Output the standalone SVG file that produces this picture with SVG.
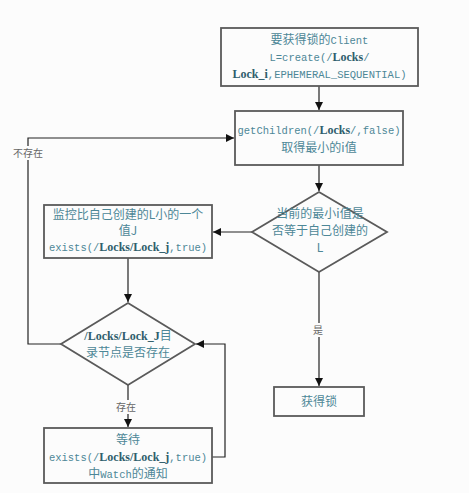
<svg xmlns="http://www.w3.org/2000/svg" width="469" height="493" viewBox="0 0 469 493">
<defs>
<marker id="ah" viewBox="0 0 10 10" refX="10" refY="5" markerWidth="8" markerHeight="8" markerUnits="userSpaceOnUse" orient="auto">
<path d="M0,0 L10,5 L0,10 z" fill="#111"/>
</marker>
<style>
.node{fill:#fcfcfc;stroke:#5a5a5a;stroke-width:1.8}
.t{font-family:"Liberation Mono","Noto Sans CJK SC",monospace;font-size:10.5px;fill:#4d8797;text-anchor:middle}
.c{font-family:"Noto Sans CJK SC","Liberation Sans",sans-serif;font-size:12px;fill:#4d8797;text-anchor:middle}
.b{font-family:"Liberation Serif",serif;font-weight:bold;font-size:12px;fill:#2f5e6c}
.e{fill:none;stroke:#222;stroke-width:1.2}
.lbl{font-family:"Noto Sans CJK SC","Liberation Sans",sans-serif;font-size:10px;fill:#666;text-anchor:middle}
.lb{fill:#fcfcfc}
</style>
</defs>
<rect width="469" height="493" fill="#fcfcfc"/>
<g id="connectors">
<path class="e" d="M319,86 L319,110" marker-end="url(#ah)"/>
<path class="e" d="M319,165 L319,191" marker-end="url(#ah)"/>
<path class="e" d="M252,232 L213,232" marker-end="url(#ah)"/>
<path class="e" d="M319,272 L319,386" marker-end="url(#ah)"/>
<path class="e" d="M128,258 L128,302" marker-end="url(#ah)"/>
<path class="e" d="M61,344 L28,344 L28,138 L234,138" marker-end="url(#ah)"/>
<path class="e" d="M128,385 L128,427" marker-end="url(#ah)"/>
<path class="e" d="M212,457 L225,457 L225,344 L196,344" marker-end="url(#ah)"/>
<rect class="lb" x="12" y="146" width="32" height="14"/>
<text class="lbl" x="28" y="157">不存在</text>
<rect class="lb" x="311" y="323" width="14" height="14"/>
<text class="lbl" x="318" y="334">是</text>
<rect class="lb" x="114" y="400" width="24" height="14"/>
<text class="lbl" x="126" y="411">存在</text>
</g>
<g id="n1">
<rect class="node" x="221" y="28" width="197" height="58"/>
<text class="t" x="319.5" y="44"><tspan class="c">要获得锁的</tspan>Client</text>
<text class="t" x="319.5" y="61">L=create(/<tspan class="b">Locks</tspan>/</text>
<text class="t" x="319.5" y="78"><tspan class="b">Lock_i</tspan>,EPHEMERAL_SEQUENTIAL)</text>
</g>
<g id="n2">
<rect class="node" x="235" y="111" width="168" height="54"/>
<text class="t" x="319" y="134">getChildren(/<tspan class="b">Locks</tspan>/,false)</text>
<text class="c" x="319" y="152">取得最小的i值</text>
</g>
<g id="n3">
<path class="node" d="M319,192 L387,232 L319,272 L252,232 z"/>
<text class="c" x="320" y="218">当前的最小i值是</text>
<text class="c" x="320" y="235">否等于自己创建的</text>
<text class="c" x="320" y="252">L</text>
</g>
<g id="n4">
<rect class="node" x="44" y="205" width="168" height="53"/>
<text class="c" x="128" y="219">监控比自己创建的L小的一个</text>
<text class="c" x="128" y="235">值J</text>
<text class="t" x="128" y="251">exists(/<tspan class="b">Locks/Lock_j</tspan>,true)</text>
</g>
<g id="n5">
<path class="node" d="M128,303 L195,344 L128,385 L61,344 z"/>
<text class="c" x="128" y="340"><tspan class="b" font-size="13px">/Locks/Lock_J</tspan>目</text>
<text class="c" x="128" y="357">录节点是否存在</text>
</g>
<g id="n6">
<rect class="node" x="274" y="387" width="90" height="29"/>
<text class="c" x="319" y="406">获得锁</text>
</g>
<g id="n7">
<rect class="node" x="44" y="428" width="168" height="55"/>
<text class="c" x="128" y="444">等待</text>
<text class="t" x="128" y="461">exists(/<tspan class="b">Locks/Lock_j</tspan>,true)</text>
<text class="t" x="128" y="478"><tspan class="c">中</tspan>Watch<tspan class="c">的通知</tspan></text>
</g>
</svg>
